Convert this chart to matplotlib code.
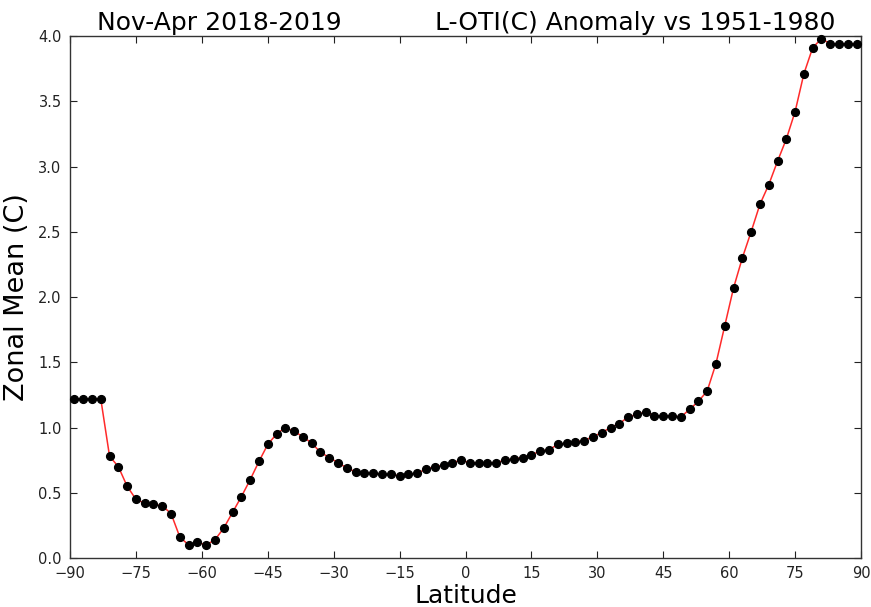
import matplotlib
matplotlib.use("Agg")
import matplotlib.pyplot as plt
import numpy as np

latitude = list(range(-89, 90, 2))
zonal_mean = [
    1.22, 1.22, 1.22, 1.22, 0.78, 0.70, 0.55, 0.45, 0.42, 0.41,
    0.40, 0.34, 0.16, 0.10, 0.12, 0.10, 0.14, 0.23, 0.35, 0.47,
    0.60, 0.74, 0.87, 0.95, 1.00, 0.97, 0.93, 0.88, 0.81, 0.77,
    0.73, 0.69, 0.66, 0.65, 0.65, 0.64, 0.64, 0.63, 0.64, 0.65,
    0.68, 0.70, 0.71, 0.73, 0.75, 0.73, 0.73, 0.73, 0.73, 0.75,
    0.76, 0.77, 0.79, 0.82, 0.83, 0.87, 0.88, 0.89, 0.90, 0.93,
    0.96, 1.00, 1.03, 1.08, 1.10, 1.12, 1.09, 1.09, 1.09, 1.08,
    1.14, 1.20, 1.28, 1.49, 1.78, 2.07, 2.30, 2.50, 2.71, 2.86,
    3.04, 3.21, 3.42, 3.71, 3.91, 3.98, 3.94, 3.94, 3.94, 3.94,
]
x_ticks = [-90, -75, -60, -45, -30, -15, 0, 15, 30, 45, 60, 75, 90]
y_ticks = [0.0, 0.5, 1.0, 1.5, 2.0, 2.5, 3.0, 3.5, 4.0]
title_left = "Nov-Apr 2018-2019"
title_right = "L-OTI(C) Anomaly vs 1951-1980"

W, H = 871, 607
fig = plt.figure(figsize=(W / 100, H / 100), dpi=100)
fig.patch.set_facecolor("white")
ax = fig.add_axes([70 / W, 1 - 558 / H, (861 - 70) / W, (558 - 36) / H])

ax.plot(latitude, zonal_mean, color="#ff2a2a", lw=1.1, marker="o",
        markersize=5.6, markerfacecolor="black", markeredgecolor="black",
        clip_on=False, zorder=3)

ax.set_xlim(-90, 90)
ax.set_ylim(0, 4.0)
ax.set_xticks(x_ticks)
ax.set_xticklabels([("\u2212%d" % abs(v)) if v < 0 else "%d" % v for v in x_ticks])
ax.set_yticks(y_ticks)
ax.set_yticklabels(["%.1f" % v for v in y_ticks])
ax.tick_params(direction="in", length=5, width=0.8, top=True, right=True,
               labelsize=10.5, pad=6, colors="#222222")
for s in ax.spines.values():
    s.set_color("#333333")
    s.set_linewidth(1.0)

ax.set_xlabel("Latitude", fontsize=18, labelpad=2)
ax.set_ylabel("Zonal Mean (C)", fontsize=19.5, labelpad=6)

fig.text(97 / W, 1 - 30 / H, title_left, fontsize=18, ha="left", va="baseline")
fig.text(835 / W, 1 - 30 / H, title_right, fontsize=18, ha="right", va="baseline")

fig.savefig("out.png", dpi=100, facecolor="white")
